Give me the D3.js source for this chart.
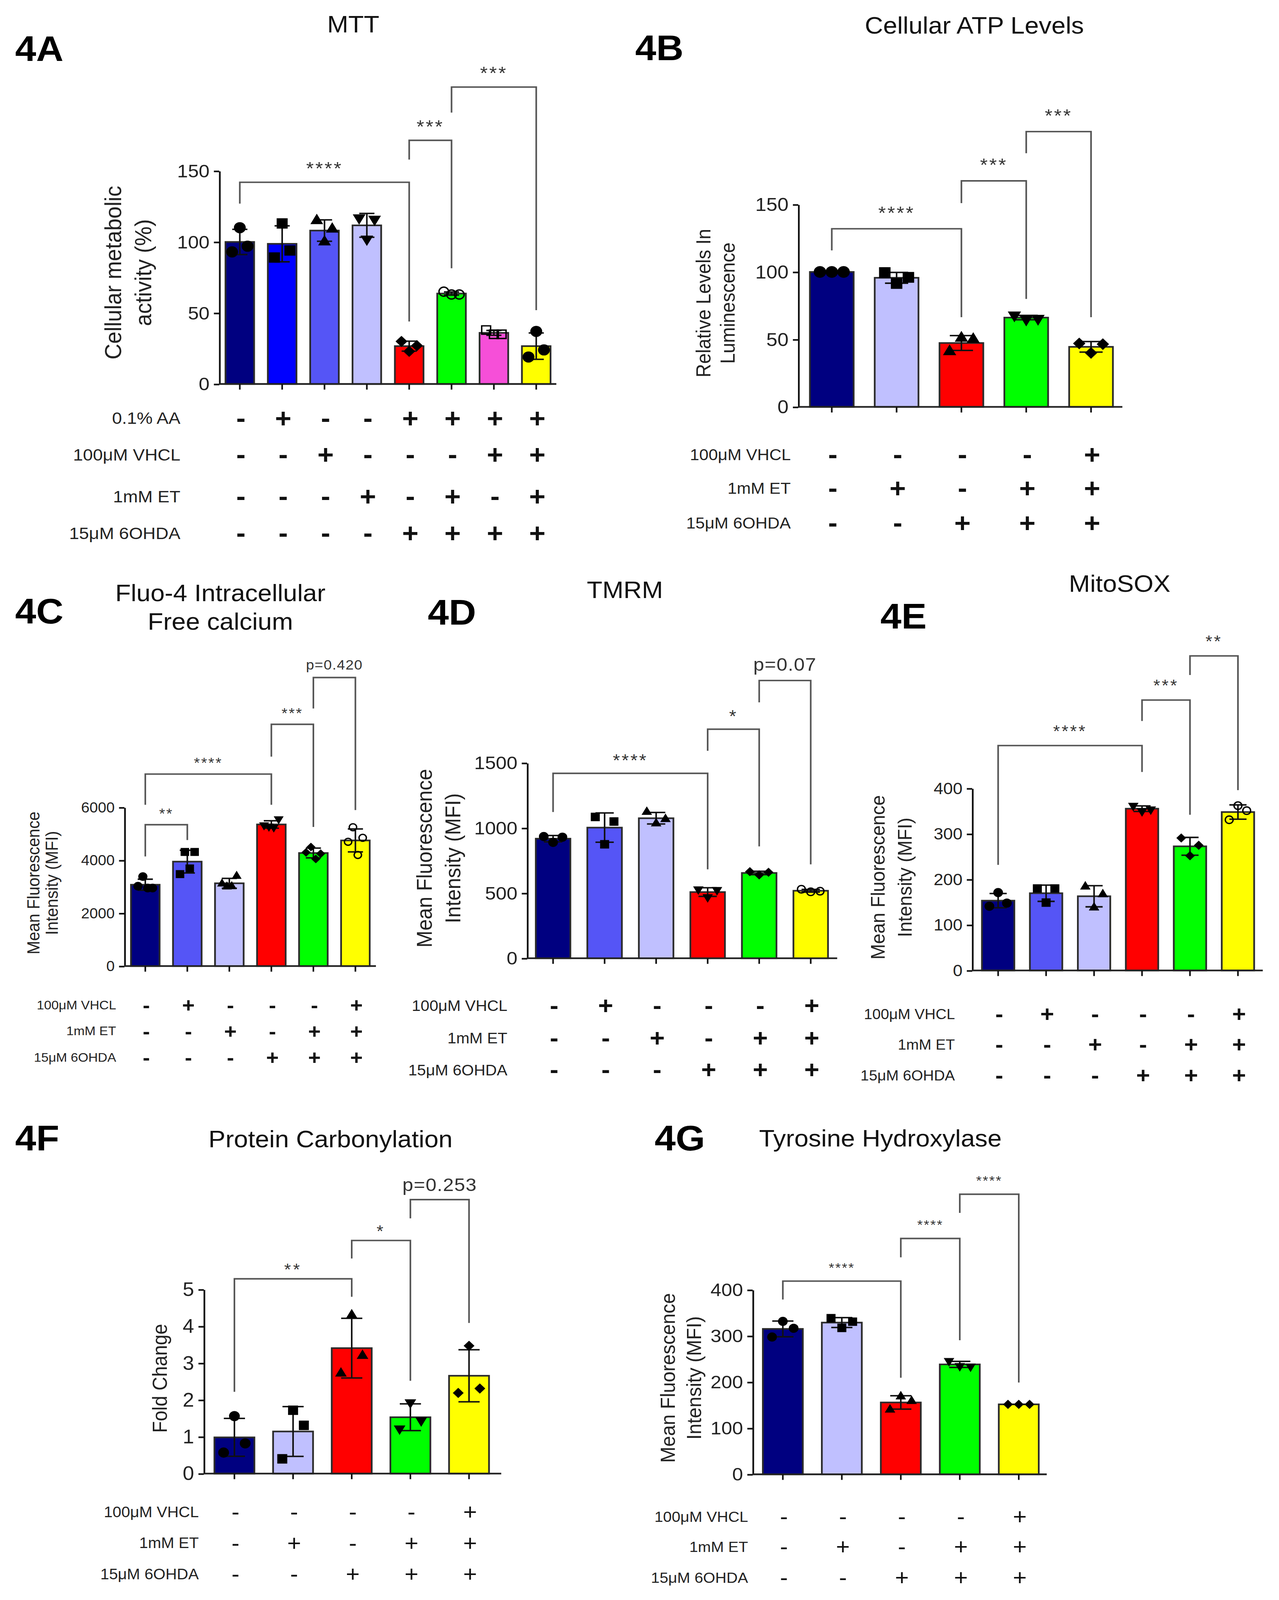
<!DOCTYPE html>
<html>
<head>
<meta charset="utf-8">
<script src="https://cdn.jsdelivr.net/npm/d3@7"></script>
<style>
html, body { margin: 0; padding: 0; background: #fff; overflow: hidden; }
svg { display: block; width: 100vw; height: 100vh; font-family: "Liberation Sans", Arial, sans-serif; }
</style>
</head>
<body>
<svg id="fig"></svg>
<script>
// ---- data ----

// 4A MTT
var mttTitle = ["MTT"];
var mttYLabel = ["Cellular metabolic", "activity (%)"];
var mttTicks = [0, 50, 100, 150];
var mttPoints = [[93, 110, 97], [89, 113, 94], [115, 100, 109], [117, 102, 116],
	[30, 23, 27], [65, 63, 63], [38, 35, 35], [19, 37, 24]];
var mttRowLabels = ["0.1% AA", "100μM VHCL", "1mM ET", "15μM 6OHDA"];
var mttRowSigns = ["-+--++++", "--+---++", "---+-+-+", "----++++"];
var mttComparisons = [[0, 4, "****"], [4, 5, "***"], [5, 7, "***"]];

// 4B ATP
var atpTitle = ["Cellular ATP Levels"];
var atpYLabel = ["Relative Levels In", "Luminescence"];
var atpTicks = [0, 50, 100, 150];
var atpPoints = [[100, 100, 100], [99.5, 91.5, 96], [41, 51, 50], [68, 65, 65.5], [47, 40, 46.5]];
var atpRowLabels = ["100μM VHCL", "1mM ET", "15μM 6OHDA"];
var atpRowSigns = ["----+", "-+-++", "--+++"];
var atpComparisons = [[0, 2, "****"], [2, 3, "***"], [3, 4, "***"]];

// 4C Fluo-4
var calciumTitle = ["Fluo-4 Intracellular", "Free calcium"];
var calciumYLabel = ["Mean Fluorescence", "Intensity (MFI)"];
var calciumTicks = [0, 2000, 4000, 6000];
var calciumPoints = [[3020, 3385, 2950, 2950], [3478, 4315, 3690, 4315], [3110, 3000, 3010, 3400],
	[5330, 5280, 5250, 5560], [4300, 4500, 4050, 4250], [4700, 5250, 4200, 4850]];
var calciumRowLabels = ["100μM VHCL", "1mM ET", "15μM 6OHDA"];
var calciumRowSigns = ["-+---+", "--+-++", "---+++"];
var calciumComparisons = [[0, 1, "**"], [0, 3, "****"], [3, 4, "***"], [4, 5, "p=0.420"]];

// 4D TMRM
var tmrmTitle = ["TMRM"];
var tmrmYLabel = ["Mean Fluorescence", "Intensity (MFI)"];
var tmrmTicks = [0, 500, 1000, 1500];
var tmrmPoints = [[935, 890, 930], [1085, 875, 1050], [1123, 1035, 1068],
	[530, 470, 525], [665, 640, 660], [530, 510, 515]];
var tmrmRowLabels = ["100μM VHCL", "1mM ET", "15μM 6OHDA"];
var tmrmRowSigns = ["-+---+", "--+-++", "---+++"];
var tmrmComparisons = [[0, 3, "****"], [3, 4, "*"], [4, 5, "p=0.07"]];

// 4E MitoSOX
var mitosoxTitle = ["MitoSOX"];
var mitosoxYLabel = ["Mean Fluorescence", "Intensity (MFI)"];
var mitosoxTicks = [0, 100, 200, 300, 400];
var mitosoxPoints = [[141, 171, 148], [180, 149, 180], [184, 138, 167],
	[362, 350, 354], [291, 252, 275], [331, 362, 351]];
var mitosoxRowLabels = ["100μM VHCL", "1mM ET", "15μM 6OHDA"];
var mitosoxRowSigns = ["-+---+", "--+-++", "---+++"];
var mitosoxComparisons = [[0, 3, "****"], [3, 4, "***"], [4, 5, "**"]];

// 4F Protein carbonylation
var carbonylTitle = ["Protein Carbonylation"];
var carbonylYLabel = ["Fold Change"];
var carbonylTicks = [0, 1, 2, 3, 4, 5];
var carbonylPoints = [[0.57, 1.56, 0.82], [0.4, 1.72, 1.31], [2.72, 4.3, 3.2], [1.22, 1.93, 1.44], [2.19, 3.47, 2.31]];
var carbonylRowLabels = ["100μM VHCL", "1mM ET", "15μM 6OHDA"];
var carbonylRowSigns = ["----+", "-+-++", "--+++"];
var carbonylComparisons = [[0, 2, "**"], [2, 3, "*"], [3, 4, "p=0.253"]];

// 4G Tyrosine hydroxylase
var thTitle = ["Tyrosine Hydroxylase"];
var thYLabel = ["Mean Fluorescence", "Intensity (MFI)"];
var thTicks = [0, 100, 200, 300, 400];
var thPoints = [[297.7, 331.6, 316.7], [338.6, 317.5, 331], [140, 168.6, 158.7], [246, 235, 234], [151.7, 151.7, 151.7]];
var thRowLabels = ["100μM VHCL", "1mM ET", "15μM 6OHDA"];
var thRowSigns = ["----+", "-+-++", "--+++"];
var thComparisons = [[0, 2, "****"], [2, 3, "****"], [3, 4, "****"]];

// ---- styles ----
var NAVY = "#000080", BLUE = "#0000ff", MID = "#5555f6", LAV = "#c0c0ff",
	RED = "#ff0000", GREEN = "#00ff00", MAGENTA = "#f64fd8", YELLOW = "#ffff00";

// drawing units: the figure is laid out in a 1184-wide box, stretched to fill the window
var W = 3273, H = 4348, VW = 1184, VH = H * VW / W;

var svg = d3.select("#fig")
	.attr("viewBox", "0 0 " + VW + " " + VH)
	.attr("preserveAspectRatio", "none");

svg.append("rect").attr("width", VW).attr("height", VH).attr("fill", "#fff");

// marker path for a given shape name and diameter
function marker(shape, d) {
	var s = d3.symbol();
	if (shape == "circle" || shape == "ocircle") return s.type(d3.symbolCircle).size(Math.PI * d * d / 4)();
	if (shape == "square" || shape == "osquare") return s.type(d3.symbolSquare).size(0.85 * d * d)();
	if (shape == "tri" || shape == "itri") return s.type(d3.symbolTriangle).size(0.47 * d * d)();
	return s.type(d3.symbolSquare).size(0.48 * d * d)(); // diamond, rotated later
}

function drawPanel(p) {
	var g = svg.append("g");
	var n = p.points.length;
	var pad = 1 - p.bw / p.step;

	var x = d3.scaleBand()
		.domain(d3.range(n))
		.range([p.center0 - p.step / 2, p.center0 - p.step / 2 + n * p.step])
		.paddingInner(pad)
		.paddingOuter(pad / 2);
	var cx = function(i) { return x(i) + x.bandwidth() / 2; };

	var y = d3.scaleLinear()
		.domain([0, p.ticks[p.ticks.length - 1]])
		.range([p.y0, p.yTop]);

	// panel tag and title
	g.append("text")
		.attr("x", p.tagX).attr("y", p.tagY)
		.style("font-size", "35px").style("font-weight", "bold")
		.text(p.tag);

	p.title.forEach(function(t, k) {
		g.append("text")
			.attr("x", p.titleX).attr("y", p.titleY[k])
			.attr("text-anchor", "middle")
			.style("font-size", "23.5px").style("fill", "#111")
			.text(t);
	});

	// bars
	g.selectAll(".bar")
		.data(p.points)
		.enter()
		.append("rect")
		.attr("x", function(d, i) { return x(i); })
		.attr("y", function(d) { return y(d3.mean(d)); })
		.attr("width", x.bandwidth())
		.attr("height", function(d) { return p.y0 - y(d3.mean(d)); })
		.style("fill", function(d, i) { return p.colors[i]; })
		.style("stroke", "#2b2b2b")
		.style("stroke-width", 1.6);

	// error bars (mean +/- SD)
	var cap = x.bandwidth() * 0.53;
	p.points.forEach(function(d, i) {
		var m = d3.mean(d), sd = d3.deviation(d);
		var e = g.append("g").style("stroke", "#111").style("stroke-width", 1.45);
		e.append("line").attr("x1", cx(i)).attr("x2", cx(i)).attr("y1", y(m - sd)).attr("y2", y(m + sd));
		e.append("line").attr("x1", cx(i) - cap / 2).attr("x2", cx(i) + cap / 2).attr("y1", y(m + sd)).attr("y2", y(m + sd));
		e.append("line").attr("x1", cx(i) - cap / 2).attr("x2", cx(i) + cap / 2).attr("y1", y(m - sd)).attr("y2", y(m - sd));
	});

	// individual points
	p.points.forEach(function(d, i) {
		var shape = p.shapes[i];
		var spread = x.bandwidth() * (d.length > 3 ? 0.17 : 0.27);
		var open = shape.charAt(0) == "o";
		var rot = shape == "itri" ? 180 : (shape == "diamond" ? 45 : 0);
		g.selectAll(".pt" + i)
			.data(d)
			.enter()
			.append("path")
			.attr("d", marker(shape, open ? p.markerD * 0.85 : p.markerD))
			.attr("transform", function(v, j) {
				var off = (j - (d.length - 1) / 2) * spread;
				return "translate(" + (cx(i) + off) + "," + y(v) + ") rotate(" + rot + ")";
			})
			.style("fill", open ? "none" : "#000")
			.style("stroke", "#000")
			.style("stroke-width", open ? 1.3 : 0.5);
	});

	// y axis
	var yAxis = g.append("g")
		.attr("transform", "translate(" + p.axisX + ",0)")
		.call(d3.axisLeft(y).tickValues(p.ticks).tickFormat(d3.format("d"))
			.tickSize(5).tickSizeOuter(0).tickPadding(4));
	yAxis.select(".domain").style("stroke", "#111").style("stroke-width", 1.6);
	yAxis.selectAll(".tick line").style("stroke", "#111").style("stroke-width", 1.6);
	yAxis.selectAll(".tick text")
		.style("font-size", p.tickFont + "px")
		.style("font-family", "'Liberation Sans', Arial, sans-serif")
		.style("fill", "#222");

	// x axis line and ticks
	g.append("line")
		.attr("x1", p.axisX).attr("x2", p.xEnd)
		.attr("y1", p.y0).attr("y2", p.y0)
		.style("stroke", "#222").style("stroke-width", 1.7);
	g.selectAll(".xt")
		.data(d3.range(n))
		.enter()
		.append("line")
		.attr("x1", cx).attr("x2", cx)
		.attr("y1", p.y0).attr("y2", p.y0 + 5.5)
		.style("stroke", "#111").style("stroke-width", 1.5);

	// y label
	p.yLabel.forEach(function(t, k) {
		g.append("text")
			.attr("transform", "translate(" + p.yLabelX[k] + "," + p.yLabelY + ") rotate(-90)")
			.attr("text-anchor", "middle")
			.style("font-size", p.yLabelSize + "px")
			.style("fill", "#222")
			.text(t);
	});

	// treatment rows
	p.rowLabels.forEach(function(t, r) {
		g.append("text")
			.attr("x", p.rowRight).attr("y", p.rowY[r])
			.attr("text-anchor", "end")
			.attr("dominant-baseline", "central")
			.style("font-size", p.rowFont + "px")
			.style("fill", "#222")
			.text(t);
		g.selectAll(".sign" + r)
			.data(p.rowSigns[r].split(""))
			.enter()
			.append("text")
			.attr("x", function(s, i) { return cx(i) + 1; })
			.attr("y", p.rowY[r])
			.attr("text-anchor", "middle")
			.attr("dominant-baseline", "central")
			.style("font-size", p.signFont + "px")
			.style("font-weight", p.signWeight)
			.style("fill", "#111")
			.text(function(s) { return s; });
	});

	// significance brackets
	p.comparisons.forEach(function(c, k) {
		var b = p.brackets[k];
		var x1 = cx(c[0]), x2 = cx(c[1]);
		g.append("path")
			.attr("d", "M" + x1 + "," + y(b[1]) + "V" + y(b[0]) + "H" + x2 + "V" + y(b[2]))
			.style("fill", "none")
			.style("stroke", "#555")
			.style("stroke-width", 1.5);
		var isP = c[2].charAt(0) == "p";
		var fs = isP ? p.pFont : p.starFont;
		var gap = isP ? p.pGap : p.starGap;
		g.append("text")
			.attr("x", (x1 + x2) / 2)
			.attr("y", y(b[0]) - gap + (isP ? 0.32 : 0.58) * fs)
			.attr("text-anchor", "middle")
			.attr("letter-spacing", isP ? 0.5 : p.starSpacing)
			.style("font-size", fs + "px")
			.style("fill", "#333")
			.text(c[2]);
	});
}

var shapes8 = ["circle", "square", "tri", "itri", "diamond", "ocircle", "osquare", "circle"];
var shapes6 = ["circle", "square", "tri", "itri", "diamond", "ocircle"];
var shapes5 = ["circle", "square", "tri", "itri", "diamond"];
var rows3 = function(labels, signs) { return { rowLabels: labels, rowSigns: signs }; };

var panels = [
	Object.assign({
		tag: "4A", tagX: 14, tagY: 60, title: mttTitle, titleX: 327, titleY: [32],
		points: mttPoints, colors: [NAVY, BLUE, MID, LAV, RED, GREEN, MAGENTA, YELLOW], shapes: shapes8,
		ticks: mttTicks, axisX: 203, y0: 377.5, yTop: 168, center0: 222, step: 39.2, bw: 26.5, xEnd: 515,
		tickFont: 18, yLabel: mttYLabel, yLabelX: [112, 140], yLabelY: 268, yLabelSize: 21.5,
		rowRight: 167, rowY: [411, 447, 488, 524], rowFont: 16.5, signFont: 26, signWeight: "bold",
		comparisons: mttComparisons, brackets: [[142, 127, 44], [171.5, 158, 81.5], [209, 191, 52]],
		starFont: 18, starSpacing: 1.5, starGap: 18, pFont: 16, pGap: 12, markerD: 10.5
	}, rows3(mttRowLabels, mttRowSigns)),
	Object.assign({
		tag: "4B", tagX: 588, tagY: 59, title: atpTitle, titleX: 902, titleY: [33],
		points: atpPoints, colors: [NAVY, LAV, RED, GREEN, YELLOW], shapes: shapes5,
		ticks: atpTicks, axisX: 739, y0: 400, yTop: 201, center0: 770, step: 60, bw: 40.5, xEnd: 1039,
		tickFont: 18.5, yLabel: atpYLabel, yLabelX: [657.5, 680], yLabelY: 298, yLabelSize: 18.5,
		rowRight: 732, rowY: [447, 480, 514], rowFont: 15.5, signFont: 26, signWeight: "bold",
		comparisons: atpComparisons, brackets: [[132, 116, 66.5], [167.5, 151, 80], [204, 188, 66.5]],
		starFont: 18, starSpacing: 1.5, starGap: 20, pFont: 16, pGap: 12, markerD: 11
	}, rows3(atpRowLabels, atpRowSigns)),
	Object.assign({
		tag: "4C", tagX: 14, tagY: 613, title: calciumTitle, titleX: 204, titleY: [591, 619],
		points: calciumPoints, colors: [NAVY, MID, LAV, RED, GREEN, YELLOW], shapes: shapes6,
		ticks: calciumTicks, axisX: 115.2, y0: 949.7, yTop: 793.7, center0: 134.5, step: 38.9, bw: 26.5, xEnd: 348,
		tickFont: 14, yLabel: calciumYLabel, yLabelX: [36.7, 53.5], yLabelY: 868, yLabelSize: 16,
		rowRight: 107.5, rowY: [988, 1013.5, 1039.5], rowFont: 12.2, signFont: 20, signWeight: "bold",
		comparisons: calciumComparisons, brackets: [[5345, 4145, 4765], [7260, 6100, 6100], [9140, 7920, 5260], [10910, 9740, 5900]],
		starFont: 14, starSpacing: 1.2, starGap: 14, pFont: 13.5, pGap: 12, markerD: 8
	}, rows3(calciumRowLabels, calciumRowSigns)),
	Object.assign({
		tag: "4D", tagX: 396, tagY: 614, title: tmrmTitle, titleX: 578.5, titleY: [588],
		points: tmrmPoints, colors: [NAVY, MID, LAV, RED, GREEN, YELLOW], shapes: shapes6,
		ticks: tmrmTicks, axisX: 488, y0: 942, yTop: 750, center0: 512, step: 47.7, bw: 32, xEnd: 775,
		tickFont: 18, yLabel: tmrmYLabel, yLabelX: [399.7, 426], yLabelY: 843.7, yLabelSize: 20,
		rowRight: 469.7, rowY: [988.5, 1020.6, 1051.8], rowFont: 14.7, signFont: 24, signWeight: "bold",
		comparisons: tmrmComparisons, brackets: [[1420, 1123, 683], [1759, 1593, 859], [2133, 1965, 721]],
		starFont: 17, starSpacing: 1.5, starGap: 16.7, pFont: 18, pGap: 15.4, markerD: 8.5
	}, rows3(tmrmRowLabels, tmrmRowSigns)),
	Object.assign({
		tag: "4E", tagX: 815, tagY: 618, title: mitosoxTitle, titleX: 1036.5, titleY: [581.7],
		points: mitosoxPoints, colors: [NAVY, MID, LAV, RED, GREEN, YELLOW], shapes: shapes6,
		ticks: mitosoxTicks, axisX: 900, y0: 954, yTop: 775, center0: 924, step: 44.4, bw: 30, xEnd: 1169,
		tickFont: 16, yLabel: mitosoxYLabel, yLabelX: [819, 844], yLabelY: 862.5, yLabelSize: 18.4,
		rowRight: 884, rowY: [997, 1027, 1057.5], rowFont: 14, signFont: 22, signWeight: "bold",
		comparisons: mitosoxComparisons, brackets: [[494, 232, 436], [594, 548, 342], [691, 649, 396]],
		starFont: 16, starSpacing: 1.6, starGap: 18, pFont: 16, pGap: 12, markerD: 8.5
	}, rows3(mitosoxRowLabels, mitosoxRowSigns)),
	Object.assign({
		tag: "4F", tagX: 14, tagY: 1131, title: carbonylTitle, titleX: 306, titleY: [1128],
		points: carbonylPoints, colors: [NAVY, LAV, RED, GREEN, YELLOW], shapes: shapes5,
		ticks: carbonylTicks, axisX: 188.7, y0: 1448.6, yTop: 1267.6, center0: 217, step: 54.3, bw: 37, xEnd: 464,
		tickFont: 19, yLabel: carbonylYLabel, yLabelX: [154.6], yLabelY: 1355, yLabelSize: 18.7,
		rowRight: 184, rowY: [1486.4, 1516.9, 1547.4], rowFont: 14.6, signFont: 22, signWeight: "normal",
		comparisons: carbonylComparisons, brackets: [[5.29, 2.22, 4.8], [6.33, 5.84, 2.52], [7.44, 6.93, 4.09]],
		starFont: 16, starSpacing: 2, starGap: 13, pFont: 18, pGap: 14.3, markerD: 9.5
	}, rows3(carbonylRowLabels, carbonylRowSigns)),
	Object.assign({
		tag: "4G", tagX: 606, tagY: 1131, title: thTitle, titleX: 815, titleY: [1127],
		points: thPoints, colors: [NAVY, LAV, RED, GREEN, YELLOW], shapes: shapes5,
		ticks: thTicks, axisX: 696.8, y0: 1449.3, yTop: 1268, center0: 724.7, step: 54.6, bw: 37, xEnd: 969,
		tickFont: 18, yLabel: thYLabel, yLabelX: [624.8, 649], yLabelY: 1354.6, yLabelSize: 19,
		rowRight: 692.5, rowY: [1491, 1520.6, 1551], rowFont: 14.4, signFont: 22, signWeight: "normal",
		comparisons: thComparisons, brackets: [[419, 379, 209.5], [511.5, 470.5, 290.7], [607.4, 567, 199]],
		starFont: 13, starSpacing: 1, starGap: 16.4, pFont: 16, pGap: 12, markerD: 8.5
	}, rows3(thRowLabels, thRowSigns))
];

panels.forEach(drawPanel);
</script>
</body>
</html>
